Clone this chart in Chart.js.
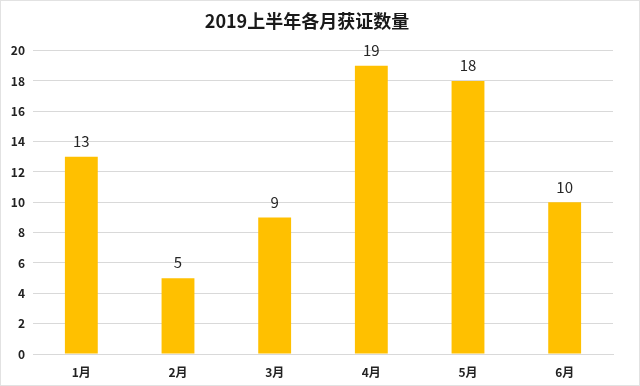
<!DOCTYPE html>
<html>
<head>
<meta charset="utf-8">
<script src="https://cdn.jsdelivr.net/npm/chart.js@4"></script>
<style>
  html, body { margin: 0; padding: 0; background: #fff; }
  #wrap { width: 638px; height: 384px; border: 1px solid #e2e2e2; }
</style>
</head>
<body>
<div id="wrap"><canvas id="chart"></canvas></div>
<script>
/* data */
const months = ["1月", "2月", "3月", "4月", "5月", "6月"];
const counts = [13, 5, 9, 19, 18, 10];
const chartTitle = "2019上半年各月获证数量";

const FONT = "'Noto Sans CJK SC', 'Noto Sans', sans-serif";

// value labels above bars
const valueLabels = {
    id: "valueLabels",
    afterDatasetsDraw(chart) {
        const ctx = chart.ctx;
        const meta = chart.getDatasetMeta(0);
        ctx.save();
        ctx.font = "15px " + FONT;
        ctx.fillStyle = "#262626";
        ctx.textAlign = "center";
        ctx.textBaseline = "bottom";
        meta.data.forEach((bar, i) => {
            ctx.fillText(counts[i], bar.x, bar.y - 8);
        });
        ctx.restore();
    }
};

new Chart(document.getElementById("chart"), {
    type: "bar",
    data: {
        labels: months,
        datasets: [{
            data: counts,
            backgroundColor: "#FFC000",
            categoryPercentage: 1,
            barPercentage: 0.34
        }]
    },
    options: {
        responsive: true,
        maintainAspectRatio: false,
        animation: false,
        layout: { padding: { top: 0, right: 26, bottom: 0, left: 0 } },
        plugins: {
            legend: { display: false },
            tooltip: { enabled: false },
            title: {
                display: true,
                text: chartTitle,
                color: "#1a1a1a",
                font: { family: FONT, size: 18, weight: "bold" },
                padding: { top: 9, bottom: 19 }
            }
        },
        scales: {
            x: {
                afterFit(scale) { scale.height = 31; },
                grid: { display: false },
                border: { color: "#d9d9d9" },
                ticks: {
                    color: "#222",
                    font: { family: FONT, size: 12, weight: "bold" },
                    padding: 3
                }
            },
            y: {
                min: 0,
                max: 20,
                afterFit(scale) { scale.width = 32; },
                grid: { color: "#d9d9d9", drawTicks: false },
                border: { display: false },
                ticks: {
                    stepSize: 2,
                    color: "#222",
                    font: { family: FONT, size: 12, weight: "bold" },
                    padding: 8
                }
            }
        }
    },
    plugins: [valueLabels]
});
</script>
</body>
</html>
